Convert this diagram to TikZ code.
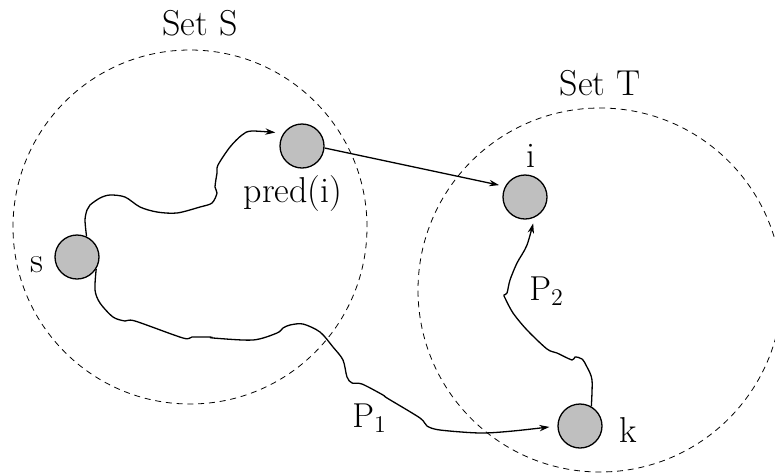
\documentclass[tikz,border=0pt]{standalone}
\usetikzlibrary{arrows.meta}
\begin{document}
\begin{tikzpicture}[x=0.5pt,y=-0.5pt,
  every node/.style={font=\fontsize{18}{21}\selectfont,inner sep=0pt},
  vertex/.style={circle,draw,line width=0.65pt,fill=black!25,minimum size=22pt},
  region/.style={circle,draw,line width=0.4pt,dash pattern=on 3pt off 2.4pt},
  link/.style={line width=0.65pt,-{Stealth[length=5pt,width=3.2pt]}},
  path/.style={smooth,tension=0.5}]
\clip (0,0) rectangle (775,472);

% the two vertex sets
\node[region,minimum size=177pt] (S) at (190,227) {};
\node[region,minimum size=182pt] (T) at (600,290) {};
\node[anchor=base] (labS) at (200,35) {Set S};
\node[anchor=base] (labT) at (600,95) {Set T};

% vertices
\node[vertex] (s) at (77,257) {};
\node[vertex] (pred) at (302,146) {};
\node[vertex] (i) at (525,197) {};
\node[vertex] (k) at (580,426) {};

\node[anchor=base] (labs) at (37,272) {s};
\node[anchor=base] (labpred) at (293,202) {pred(i)};
\node[anchor=base] (labi) at (531,167) {i};
\node[anchor=base] (labk) at (628,442) {k};
\node[anchor=base west] (labP1) at (352,427) {$\mathrm{P}_1$};
\node[anchor=base west] (labP2) at (529,300) {$\mathrm{P}_2$};

% direct edge pred(i) -> i
\draw[link,shorten >=3pt] (pred.-5) -- (i.152);

% path from s to pred(i) inside S
\draw[link,shorten >=4pt] plot[path] coordinates {(s.65) (85,220) (87,210) (90,205)
  (100,198) (110,195) (125,197) (140,207) (157,212) (177,213) (200,207) (212,203)
  (217,193) (215,187) (217,173) (218,165) (230,147) (242,135) (252,131) (pred.146)};

% path P1 from s to k
\draw[link,shorten >=4pt] plot[path] coordinates {(s.-32) (95,290) (100,303)
  (113,317) (125,321) (135,321) (183,338) (192,337) (210,337) (213,338) (253,340)
  (277,333) (283,328) (290,325) (303,324) (320,332) (333,347) (343,360) (347,377)
  (352,383) (362,384) (383,395) (387,398) (420,418) (427,426) (440,430) (480,433)
  (513,431) (k.180)};

% path P2 from k to i
\draw[link,shorten >=3pt] plot[path] coordinates {(k.60) (592,380) (587,367)
  (582,359) (575,357) (572,360) (557,353) (547,349) (527,330) (513,313) (505,298)
  (504,295) (507,293) (510,280) (517,263) (527,245) (i.-65)};
\end{tikzpicture}
\end{document}
